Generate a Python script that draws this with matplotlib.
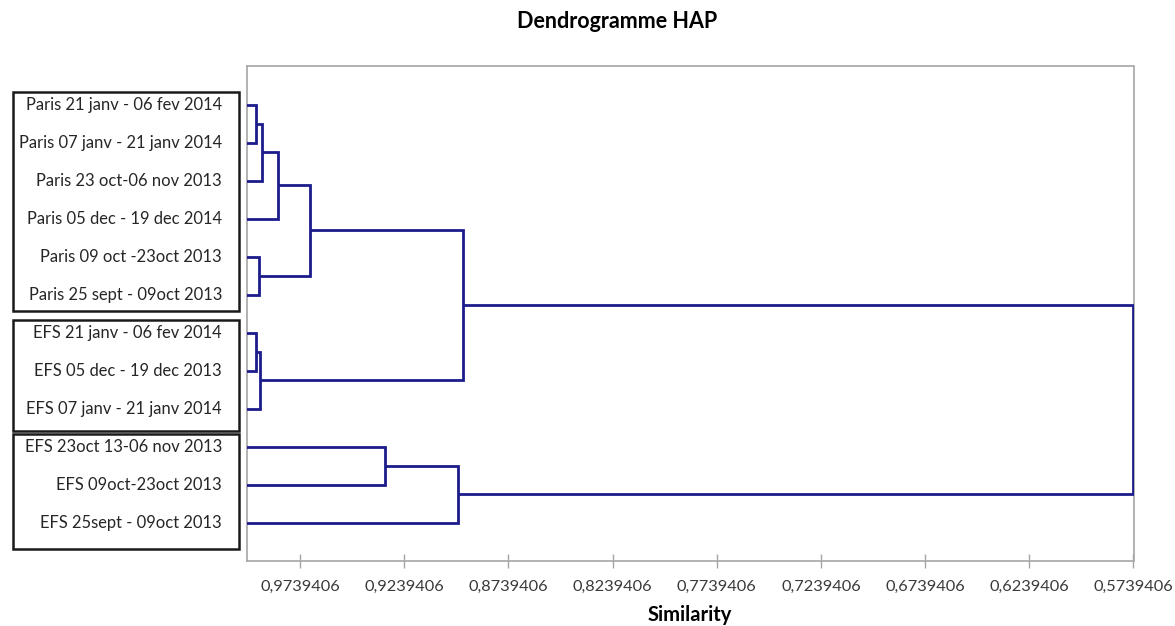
import matplotlib
matplotlib.use("Agg")
import matplotlib.pyplot as plt
from matplotlib.patches import Rectangle
import matplotlib.transforms as mtransforms

plt.rcParams['font.family'] = ['Lato', 'DejaVu Sans']

# Leaves (in display order, top to bottom)
leaf_labels = [
    "Paris 21 janv - 06 fev 2014",
    "Paris 07 janv - 21 janv 2014",
    "Paris 23 oct-06 nov 2013",
    "Paris 05 dec - 19 dec 2014",
    "Paris 09 oct -23oct 2013",
    "Paris 25 sept - 09oct 2013",
    "EFS 21 janv - 06 fev 2014",
    "EFS 05 dec - 19 dec 2013",
    "EFS 07 janv - 21 janv 2014",
    "EFS 23oct 13-06 nov 2013",
    "EFS 09oct-23oct 2013",
    "EFS 25sept - 09oct 2013",
]

# Linkage: node ids 12.. created in order
merge_left = [0, 12, 13, 4, 14, 6, 17, 16, 9, 20, 19]
merge_right = [1, 2, 3, 5, 15, 7, 8, 18, 10, 11, 21]
merge_sim = [0.9950, 0.9923, 0.9846, 0.9935, 0.9691, 0.9950, 0.9931,
             0.8959, 0.9332, 0.8983, 0.5739406]

tick_values = [0.9739406, 0.9239406, 0.8739406, 0.8239406, 0.7739406,
               0.7239406, 0.6739406, 0.6239406, 0.5739406]
tick_labels = ["0,9739406", "0,9239406", "0,8739406", "0,8239406", "0,7739406",
               "0,7239406", "0,6739406", "0,6239406", "0,5739406"]

# group boxes (leaf index ranges)
box_ranges = [(-0.32, 5.42), (5.66, 8.60), (8.68, 11.68)]

line_color = '#1c1c8c'
spine_color = '#a6a6a6'

fig = plt.figure(figsize=(11.75, 6.26), dpi=100)
ax = fig.add_axes([246.7 / 1175, 1 - 560.7 / 626, (1133.5 - 246.7) / 1175, (560.7 - 66.5) / 626])

n = len(leaf_labels)
pos = {i: (float(i), 1.0) for i in range(n)}
for k, (a, b, s) in enumerate(zip(merge_left, merge_right, merge_sim)):
    ya, sa = pos[a]
    yb, sb = pos[b]
    ax.plot([sa, s, s, sb], [ya, ya, yb, yb], color=line_color, lw=2.0,
            solid_joinstyle='miter', solid_capstyle='butt', zorder=3)
    pos[n + k] = ((ya + yb) / 2.0, s)

ax.set_xlim(0.9995, 0.5739406)
ax.set_ylim(n, -1)
ax.set_yticks([])
ax.set_xticks(tick_values)
ax.set_xticklabels(tick_labels, fontsize=11.8, color='#3a3a3a')
ax.tick_params(axis='x', direction='inout', length=10, width=1, color=spine_color, pad=9)
for sp in ax.spines.values():
    sp.set_color(spine_color)
    sp.set_linewidth(1.2)

ax.set_xlabel("Similarity", fontsize=14.5, fontweight='bold', labelpad=8)
fig.text(617 / 1175, 1 - 22 / 626, "Dendrogramme HAP", fontsize=15.5,
         fontweight='bold', ha='center', va='center')

trans = mtransforms.blended_transform_factory(fig.transFigure, ax.transData)
label_x = 222 / 1175
for i, lab in enumerate(leaf_labels):
    ax.text(label_x, i, lab, transform=trans, ha='right', va='center',
            fontsize=11.9, color='#262626', clip_on=False)

for (y0, y1) in box_ranges:
    r = Rectangle((13 / 1175, y0), (239 - 13) / 1175, y1 - y0, transform=trans,
                  fill=False, edgecolor='#1a1a1a', lw=1.8, clip_on=False)
    ax.add_artist(r)

fig.savefig("out.png", dpi=100)
